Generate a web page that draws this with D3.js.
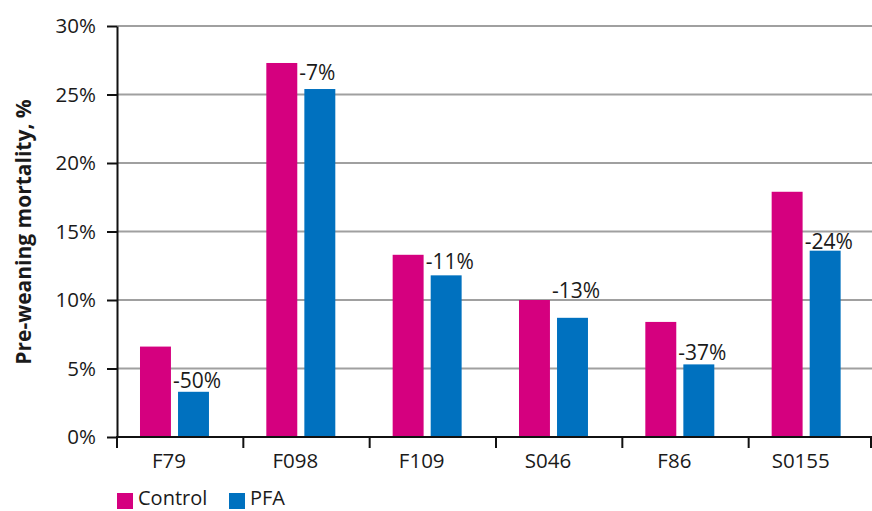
<!DOCTYPE html>
<html>
<head>
<meta charset="utf-8">
<script src="https://cdn.jsdelivr.net/npm/d3@7/dist/d3.min.js"></script>
<style>
  html, body { margin: 0; padding: 0; background: #fff; }
  svg { display: block; font-family: "Open Sans", "Noto Sans", sans-serif; }
</style>
</head>
<body>
<svg id="chart" width="872" height="511"></svg>
<script>
// Pre-weaning mortality by farm, control vs PFA
const categories = ["F79", "F098", "F109", "S046", "F86", "S0155"];
const controlValues = [6.6, 27.3, 13.3, 10.0, 8.4, 17.9];
const pfaValues = [3.3, 25.4, 11.8, 8.7, 5.3, 13.6];
const yTicks = [0, 5, 10, 15, 20, 25, 30];
const seriesNames = ["Control", "PFA"];

// vertical gap between each change label and its PFA bar
const labelGap = [4, 9, 6, 20, 4, 2];

const colors = { Control: "#d5007f", PFA: "#0071bf" };
const ink = "#1a1a1a";

const svg = d3.select("#chart");

const x = d3.scaleBand().domain(categories).range([117, 875]).padding(0);
const y = d3.scaleLinear().domain([0, 30]).range([437, 26]);
const step = x.step();

// gridlines
svg.append("g")
  .selectAll("line")
  .data(yTicks.filter(d => d > 0))
  .join("line")
  .attr("x1", 117).attr("x2", 872)
  .attr("y1", d => y(d)).attr("y2", d => y(d))
  .attr("stroke", "#a0a0a0").attr("stroke-width", 2);

// bars
const barW = step * 0.245;
const ctrlOff = step * 0.182;
const pfaOff = step * 0.483;

svg.append("g")
  .selectAll("rect")
  .data(categories)
  .join("rect")
  .attr("x", d => x(d) + ctrlOff)
  .attr("width", barW)
  .attr("y", (d, i) => y(controlValues[i]))
  .attr("height", (d, i) => y(0) - y(controlValues[i]))
  .attr("fill", colors.Control);

svg.append("g")
  .selectAll("rect")
  .data(categories)
  .join("rect")
  .attr("x", d => x(d) + pfaOff)
  .attr("width", barW)
  .attr("y", (d, i) => y(pfaValues[i]))
  .attr("height", (d, i) => y(0) - y(pfaValues[i]))
  .attr("fill", colors.PFA);

// change labels
svg.append("g")
  .selectAll("text")
  .data(categories)
  .join("text")
  .attr("x", d => x(d) + pfaOff - 5)
  .attr("y", (d, i) => y(pfaValues[i]) - labelGap[i])
  .attr("font-size", 21)
  .attr("fill", ink)
  .text((d, i) => Math.round((pfaValues[i] / controlValues[i] - 1) * 100) + "%");

// y axis
const yAxis = d3.axisLeft(y).tickValues(yTicks).tickFormat(d => d + "%").tickSize(10).tickSizeOuter(0);
const gy = svg.append("g").attr("transform", "translate(117,0)").call(yAxis);
gy.select(".domain").attr("stroke", "#111").attr("stroke-width", 2);
gy.selectAll(".tick line").attr("stroke", "#111").attr("stroke-width", 2);
gy.selectAll(".tick text")
  .attr("x", -21)
  .attr("font-size", 20.5)
  .attr("font-family", "'Open Sans', 'Noto Sans', sans-serif")
  .attr("fill", ink);

// x axis with ticks on category boundaries
const gx = svg.append("g").attr("transform", "translate(0,437)");
gx.append("line").attr("x1", 116).attr("x2", 872).attr("stroke", "#111").attr("stroke-width", 2);
gx.selectAll(".bound")
  .data(categories)
  .join("line")
  .attr("class", "bound")
  .attr("x1", d => x(d)).attr("x2", d => x(d))
  .attr("y1", 0).attr("y2", 11)
  .attr("stroke", "#111").attr("stroke-width", 2);
gx.append("line")
  .attr("x1", x.range()[1] - 4).attr("x2", x.range()[1] - 4)
  .attr("y1", 0).attr("y2", 11)
  .attr("stroke", "#111").attr("stroke-width", 2);
gx.selectAll(".cat")
  .data(categories)
  .join("text")
  .attr("class", "cat")
  .attr("x", d => x(d) + step * 0.412)
  .attr("y", 31)
  .attr("text-anchor", "middle")
  .attr("font-size", 20.5)
  .attr("fill", ink)
  .text(d => d);

// y axis title
svg.append("text")
  .attr("transform", "translate(31,232) rotate(-90)")
  .attr("text-anchor", "middle")
  .attr("font-size", 21)
  .attr("font-weight", "bold")
  .attr("fill", ink)
  .text("Pre-weaning mortality, %");

// legend
const legendX = [117, 229];
const lg = svg.append("g");
seriesNames.forEach((name, i) => {
  lg.append("rect")
    .attr("x", legendX[i]).attr("y", 493)
    .attr("width", 16).attr("height", 16)
    .attr("fill", colors[name]);
  lg.append("text")
    .attr("x", legendX[i] + 21).attr("y", 505)
    .attr("font-size", 20)
    .attr("fill", ink)
    .text(name);
});
</script>
</body>
</html>
